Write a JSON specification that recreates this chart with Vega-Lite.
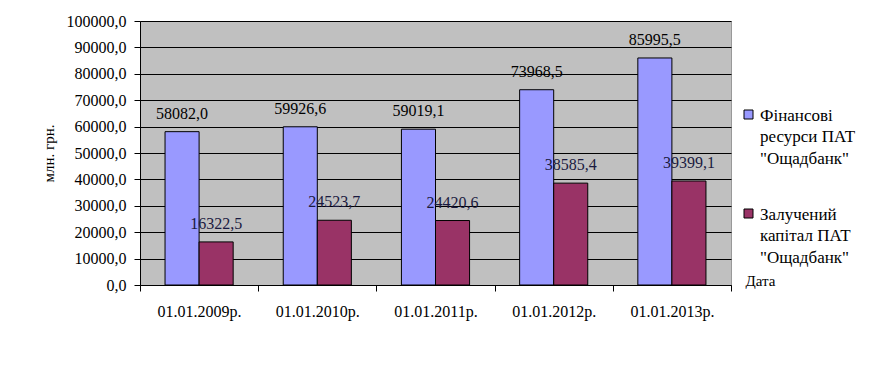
{
  "$schema": "https://vega.github.io/schema/vega-lite/v6.json",
  "width": 591,
  "height": 264,
  "autosize": {"type": "none"},
  "padding": {"left": 140, "top": 21, "right": 151, "bottom": 104},
  "background": "white",
  "config": {
    "locale": {"number": {"decimal": ",", "thousands": "", "grouping": [3], "currency": ["", ""]}},
    "font": "Liberation Serif",
    "axis": {"labelFont": "Liberation Serif", "titleFont": "Liberation Serif"},
    "legend": {"labelFont": "Liberation Serif"},
    "text": {"font": "Liberation Serif"},
    "view": {"fill": "#C0C0C0", "stroke": "#999999"}
  },
  "data": {
    "values": [
      {"date": "01.01.2009р.", "series": "Фінансові ресурси ПАТ \"Ощадбанк\"", "value": 58082.0},
      {"date": "01.01.2009р.", "series": "Залучений капітал ПАТ \"Ощадбанк\"", "value": 16322.5},
      {"date": "01.01.2010р.", "series": "Фінансові ресурси ПАТ \"Ощадбанк\"", "value": 59926.6},
      {"date": "01.01.2010р.", "series": "Залучений капітал ПАТ \"Ощадбанк\"", "value": 24523.7},
      {"date": "01.01.2011р.", "series": "Фінансові ресурси ПАТ \"Ощадбанк\"", "value": 59019.1},
      {"date": "01.01.2011р.", "series": "Залучений капітал ПАТ \"Ощадбанк\"", "value": 24420.6},
      {"date": "01.01.2012р.", "series": "Фінансові ресурси ПАТ \"Ощадбанк\"", "value": 73968.5},
      {"date": "01.01.2012р.", "series": "Залучений капітал ПАТ \"Ощадбанк\"", "value": 38585.4},
      {"date": "01.01.2013р.", "series": "Фінансові ресурси ПАТ \"Ощадбанк\"", "value": 85995.5},
      {"date": "01.01.2013р.", "series": "Залучений капітал ПАТ \"Ощадбанк\"", "value": 39399.1}
    ]
  },
  "encoding": {
    "x": {
      "field": "date", "type": "nominal", "sort": null,
      "scale": {"paddingInner": 0, "paddingOuter": 0},
      "axis": {
        "title": "Дата", "tickBand": "extent", "labelAngle": 0, "labelFontSize": 16,
        "labelColor": "#000", "labelPadding": 12, "tickSize": 6, "tickColor": "#000",
        "domainColor": "#000", "titleX": 605, "titleY": 0, "titleAlign": "left",
        "titleBaseline": "alphabetic", "titleFontSize": 15, "titleFontWeight": "normal",
        "titleColor": "#000", "grid": false
      }
    },
    "xOffset": {
      "field": "series", "type": "nominal", "sort": null,
      "scale": {"paddingInner": 0, "paddingOuter": 0.735}
    },
    "y": {
      "field": "value", "type": "quantitative",
      "scale": {"domain": [0, 100000], "nice": false},
      "axis": {
        "title": "млн. грн.", "values": [0, 10000, 20000, 30000, 40000, 50000, 60000, 70000, 80000, 90000, 100000],
        "format": ".1f", "labelFontSize": 16, "labelColor": "#000", "labelPadding": 8,
        "tickSize": 6, "tickColor": "#000", "domainColor": "#000",
        "grid": true, "gridColor": "#000", "gridOpacity": 1, "gridWidth": 1,
        "titleX": -92, "titleY": 132, "titleAngle": 270, "titleAlign": "center",
        "titleBaseline": "middle", "titleFontSize": 15, "titleFontWeight": "normal", "titleColor": "#000"
      }
    }
  },
  "layer": [
    {
      "mark": {"type": "bar", "stroke": "#000", "strokeWidth": 1},
      "encoding": {
        "color": {
          "field": "series", "type": "nominal", "sort": null,
          "scale": {"range": ["#9999FF", "#993366"]},
          "legend": {
            "title": null, "orient": "none", "legendX": 600, "legendY": 85,
            "symbolType": "square", "symbolSize": 81, "symbolStrokeColor": "#000",
            "symbolStrokeWidth": 1, "symbolOpacity": 1, "labelOffset": 3,
            "labelFontSize": 17, "labelColor": "#000", "labelLimit": 0,
            "labelBaseline": "top", "rowPadding": 38,
            "labelExpr": "indexof(datum.label, 'Фін') >= 0 ? ['Фінансові', 'ресурси ПАТ', '\"Ощадбанк\"'] : ['Залучений', 'капітал ПАТ', '\"Ощадбанк\"']",
            "encode": {"labels": {"update": {"lineHeight": {"value": 21.5}, "dy": {"value": -7}}}}
          }
        }
      }
    },
    {
      "mark": {"type": "text", "baseline": "bottom", "dy": -10, "fontSize": 16, "font": "Liberation Serif"},
      "encoding": {
        "text": {"field": "value", "type": "quantitative", "format": ".1f"},
        "color": {
          "condition": {"test": "indexof(datum.series, 'Залуч') >= 0", "value": "#1a1a40"},
          "value": "#000"
        }
      }
    }
  ]
}
